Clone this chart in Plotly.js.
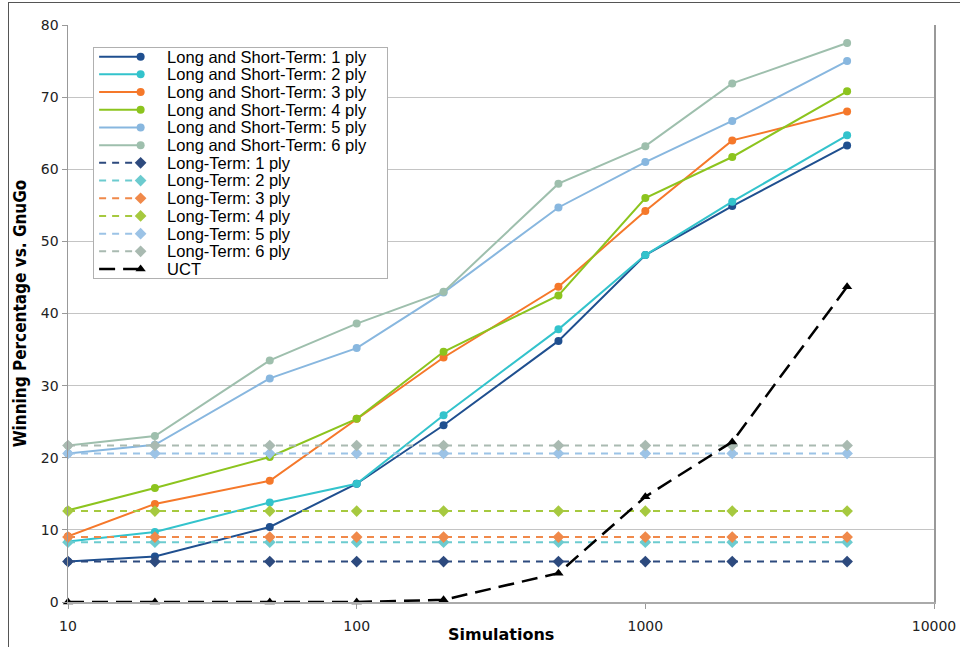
<!DOCTYPE html>
<html>
<head>
<meta charset="utf-8">
<script src="https://cdn.plot.ly/plotly-3.0.1.min.js"></script>
<style>
  html, body { margin: 0; padding: 0; background: #fff; }
  #wrap { position: relative; width: 960px; height: 647px; overflow: hidden; }
  #chart { position: absolute; left: 0; top: 0; width: 960px; height: 647px; }
  #frame { position: absolute; left: 8px; top: 2px; width: 1000px; height: 700px;
           border-left: 1px solid #555; border-top: 1px solid #555; pointer-events: none; }
</style>
</head>
<body>
<div id="wrap">
  <div id="chart"></div>
  <div id="frame"></div>
</div>
<script>
// ---- data ----
const simulations = [10, 20, 50, 100, 200, 500, 1000, 2000, 5000];

const lsNames = [
  "Long and Short-Term: 1 ply", "Long and Short-Term: 2 ply", "Long and Short-Term: 3 ply",
  "Long and Short-Term: 4 ply", "Long and Short-Term: 5 ply", "Long and Short-Term: 6 ply"
];
const ls1 = [5.6, 6.3, 10.4, 16.4, 24.5, 36.2, 48.1, 54.9, 63.3];
const ls2 = [8.4, 9.7, 13.8, 16.4, 25.9, 37.8, 48.1, 55.5, 64.7];
const ls3 = [9.1, 13.6, 16.8, 25.4, 33.9, 43.7, 54.2, 64.0, 68.0];
const ls4 = [12.7, 15.8, 20.1, 25.4, 34.7, 42.5, 56.0, 61.7, 70.8];
const ls5 = [20.6, 21.8, 31.0, 35.2, 42.9, 54.7, 61.0, 66.7, 75.0];
const ls6 = [21.7, 23.0, 33.5, 38.6, 43.0, 58.0, 63.2, 71.9, 77.5];

const ltNames = [
  "Long-Term: 1 ply", "Long-Term: 2 ply", "Long-Term: 3 ply",
  "Long-Term: 4 ply", "Long-Term: 5 ply", "Long-Term: 6 ply"
];
const lt1 = [5.6, 5.6, 5.6, 5.6, 5.6, 5.6, 5.6, 5.6, 5.6];
const lt2 = [8.3, 8.3, 8.3, 8.3, 8.3, 8.3, 8.3, 8.3, 8.3];
const lt3 = [9.0, 9.0, 9.0, 9.0, 9.0, 9.0, 9.0, 9.0, 9.0];
const lt4 = [12.6, 12.6, 12.6, 12.6, 12.6, 12.6, 12.6, 12.6, 12.6];
const lt5 = [20.6, 20.6, 20.6, 20.6, 20.6, 20.6, 20.6, 20.6, 20.6];
const lt6 = [21.7, 21.7, 21.7, 21.7, 21.7, 21.7, 21.7, 21.7, 21.7];

const uctName = "UCT";
const uct = [0, 0, 0, 0, 0.3, 4.0, 14.6, 22.2, 43.7];

const xTickVals = [10, 100, 1000, 10000];
const xTickText = ["10", "100", "1000", "10000"];
const yTickVals = [0, 10, 20, 30, 40, 50, 60, 70, 80];

// ---- styles ----
const lsColors = ["#1f4f8f", "#33c3cc", "#f5782a", "#8cc41e", "#88b7df", "#9ebfad"];
const ltColors = ["#2d4a7e", "#6ccbcf", "#f0894a", "#a6c93f", "#9cc3e6", "#a9bab1"];

const lsData = [ls1, ls2, ls3, ls4, ls5, ls6];
const ltData = [lt1, lt2, lt3, lt4, lt5, lt6];

const traces = [];
lsData.forEach((ys, i) => {
  traces.push({
    x: simulations, y: ys, name: lsNames[i], type: "scatter", mode: "lines+markers",
    line: { color: lsColors[i], width: 2 },
    marker: { color: lsColors[i], size: 8, symbol: "circle" },
    cliponaxis: false
  });
});
ltData.forEach((ys, i) => {
  traces.push({
    x: simulations, y: ys, name: ltNames[i], type: "scatter", mode: "lines+markers",
    line: { color: ltColors[i], width: 2, dash: "7px,6px" },
    marker: { color: ltColors[i], size: 9, symbol: "diamond" },
    cliponaxis: false
  });
});
traces.push({
  x: simulations, y: uct, name: uctName, type: "scatter", mode: "lines+markers",
  line: { color: "#000", width: 2.5, dash: "16px,8px" },
  marker: { color: "#000", size: 9, symbol: "triangle-up" },
  cliponaxis: false
});

const tickFont = { family: "DejaVu Sans, Verdana, sans-serif", size: 14, color: "#222" };
const legendFontSize = 10;
const legendTextSize = 16.5;      // size the entry text is drawn at
const legendBoxWidth = 294;
const legendRowGap = 17.7;        // entry spacing in the reference
const legendTopPad = 9.7;
const legendBottomPad = 8.7;

const layout = {
  width: 960, height: 647,
  margin: { l: 68, r: 26, t: 25, b: 45 },
  paper_bgcolor: "rgba(0,0,0,0)", plot_bgcolor: "#fff",
  showlegend: true,
  legend: {
    x: 0.029, y: 0.962, xanchor: "left", yanchor: "top",
    bgcolor: "#fff", bordercolor: "#b0b0b0", borderwidth: 1,
    font: { family: "Liberation Sans, Arial, Helvetica, sans-serif", size: legendFontSize, color: "#000" },
    itemwidth: 45, tracegroupgap: 0
  },
  xaxis: {
    type: "log", range: [1, 4],
    tickvals: xTickVals, ticktext: xTickText,
    ticks: "outside", ticklen: 5, tickcolor: "#999", ticklabelstandoff: 5,
    showgrid: false, zeroline: false,
    showline: true, linecolor: "#aaa", linewidth: 2,
    tickfont: tickFont, automargin: false
  },
  yaxis: {
    range: [0, 80], tickvals: yTickVals,
    ticks: "outside", ticklen: 5, tickcolor: "#999",
    showgrid: true, gridcolor: "#c4c4c4", gridwidth: 1,
    zeroline: false, showline: true, linecolor: "#999", linewidth: 1.5, mirror: true,
    tickfont: tickFont, automargin: false,
    title: {
      text: "Winning Percentage vs. GnuGo",
      font: { family: "Liberation Sans Narrow, DejaVu Sans Condensed, Arial Narrow, sans-serif", size: 17, color: "#000", weight: "bold" },
      standoff: 10
    }
  },
  annotations: [{
    text: "Simulations", xref: "paper", yref: "paper", x: 0.5, y: 0,
    yshift: -32, xanchor: "center", yanchor: "middle", showarrow: false,
    font: { family: "DejaVu Sans, Verdana, sans-serif", size: 16, color: "#000", weight: "bold" }
  }]
};

Plotly.newPlot("chart", traces, layout, { displayModeBar: false, staticPlot: true }).then(gd => {
  // larger legend text with the tight entry spacing of the reference
  const items = gd.querySelectorAll(".legend .traces");
  items.forEach((g, i) => {
    g.setAttribute("transform", "translate(1," + (legendTopPad + i * legendRowGap).toFixed(1) + ")");
  });
  const boxH = legendTopPad + (items.length - 1) * legendRowGap + legendBottomPad;
  gd.querySelectorAll(".legend .legendtext").forEach(t => {
    t.style.fontSize = legendTextSize + "px";
    t.setAttribute("x", 73);
    t.setAttribute("y", (legendTextSize * 0.36).toFixed(1));
  });
  gd.querySelectorAll(".legend .legendpoints").forEach(p => {
    p.setAttribute("transform", "translate(19,0)");
  });
  gd.querySelectorAll(".legend .bg").forEach(b => {
    b.setAttribute("width", legendBoxWidth);
    b.setAttribute("height", boxH.toFixed(1));
  });
  document.querySelectorAll('clipPath[id^="legend"] rect').forEach(r => {
    r.setAttribute("width", legendBoxWidth);
    r.setAttribute("height", boxH.toFixed(1));
  });
});
</script>
</body>
</html>
